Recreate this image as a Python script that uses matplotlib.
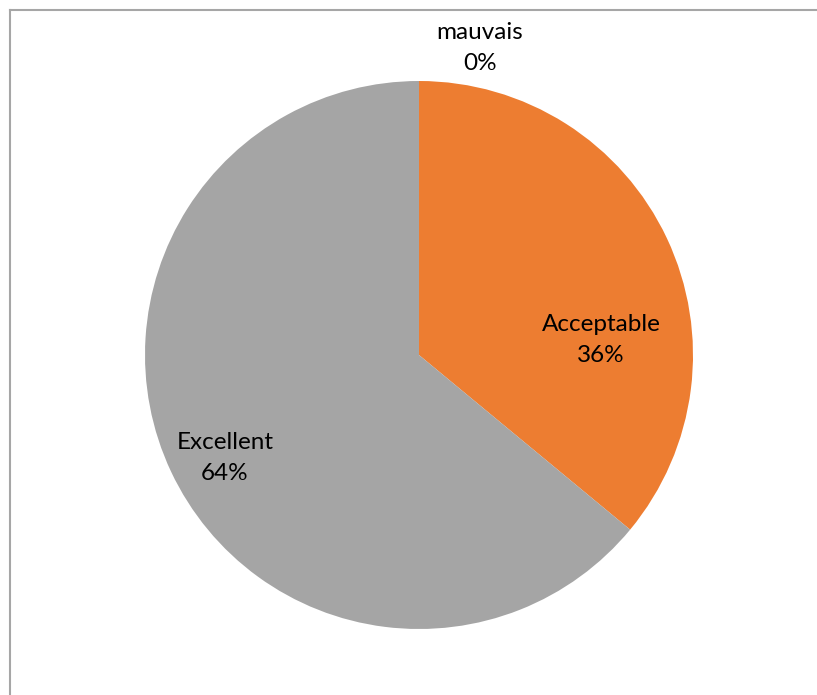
import matplotlib.pyplot as plt
from matplotlib.lines import Line2D

categories = ["mauvais", "Acceptable", "Excellent"]
values = [0, 36, 64]
colors = ["#4472C4", "#ED7D31", "#A5A5A5"]
# label anchor points in pie units (radius = 1)
label_pos = [(0.223, 1.12), (0.664, 0.055), (-0.708, -0.376)]

plt.rcParams['font.family'] = ['Lato', 'DejaVu Sans']

W, H = 817, 695
fig = plt.figure(figsize=(W / 100, H / 100), dpi=100)
fig.patch.set_facecolor("white")

cx, cy, r = 419, 355, 274
ax = fig.add_axes([(cx - r) / W, (H - cy - r) / H, 2 * r / W, 2 * r / H])
ax.pie(values, colors=colors, startangle=90, counterclock=False,
       wedgeprops=dict(linewidth=0))
ax.set_xlim(-1, 1)
ax.set_ylim(-1, 1)
ax.set_aspect("equal")
ax.axis("off")

total = sum(values)
for name, v, (x, y) in zip(categories, values, label_pos):
    ax.text(x, y, f"{name}\n{round(100 * v / total)}%", ha="center", va="center",
            fontsize=17.5, color="#000000", linespacing=1.6, clip_on=False)

# chart area border (left and top edges)
bx, by = 9.5 / W, 1 - 9.5 / H
fig.add_artist(Line2D([bx, bx], [0, by], transform=fig.transFigure, color="#A6A6A6", lw=1.5))
fig.add_artist(Line2D([bx, 1], [by, by], transform=fig.transFigure, color="#A6A6A6", lw=1.5))

fig.savefig("out.png", dpi=100)
